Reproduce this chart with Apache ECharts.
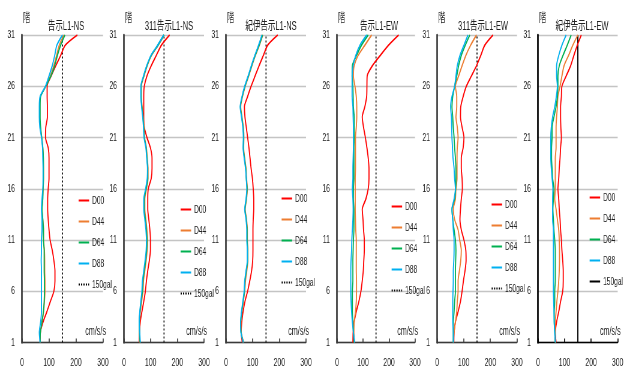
<!DOCTYPE html>
<html>
<head>
<meta charset="utf-8">
<script src="https://cdn.jsdelivr.net/npm/echarts@6/dist/echarts.min.js"></script>
<style>
  html, body { margin: 0; padding: 0; background: #fff; overflow: hidden; }
  /* The chart is laid out wide and squeezed horizontally, giving the condensed lettering */
  #chart { width: 1042px; height: 369px; transform: scaleX(0.6); transform-origin: 0 0; }
</style>
</head>
<body>
<div id="chart"></div>
<script>
// Floor numbers (bottom to top) and the panel titles
const floors = [1,2,3,4,5,6,7,8,9,10,11,12,13,14,15,16,17,18,19,20,21,22,23,24,25,26,27,28,29,30,31];
const panelTitles = ['告示L1-NS', '311告示L1-NS', '紀伊告示L1-NS', '告示L1-EW', '311告示L1-EW', '紀伊告示L1-EW'];
const caseNames = ['D00', 'D44', 'D64', 'D88'];
const refName = '150gal';
const refLevel = 150;
const xTicks = [0, 100, 200, 300];
const floorTicks = [1, 6, 11, 16, 21, 26, 31];

// Peak floor response acceleration (cm/s/s), floor 1 -> 31
const kokujiNS_D00 = [67,68,78,92,105,118,122,122,118,112,104,100,97,95,95,97,100,100,100,97,87,88,94,94,93,93,108,125,143,160,205];
const kokujiNS_D44 = [67,68,74,80,83,85,85,84,84,83,80,80,77,74,76,78,80,80,79,77,73,68,66,66,68,88,105,118,128,138,155];
const kokujiNS_D64 = [67,68,74,79,82,83,83,82,82,82,79,79,77,74,77,78,79,79,79,77,73,69,67,67,69,88,107,121,131,143,159];
const kokujiNS_D88 = [67,64,69,72,72,72,72,72,71,72,72,74,74,72,74,77,78,78,77,76,72,66,64,64,67,87,100,112,121,129,150];

const k311NS_D00 = [57,58,61,67,74,80,84,89,95,99,99,97,93,89,89,91,102,105,105,99,86,76,74,74,74,76,86,102,121,140,171];
const k311NS_D44 = [60,58,58,61,66,71,73,78,83,87,88,86,82,78,78,84,90,90,87,84,77,75,72,68,65,65,75,87,103,128,151];
const k311NS_D64 = [60,58,57,60,64,69,71,76,81,85,86,84,80,76,76,83,89,89,86,83,76,74,71,67,64,64,74,86,102,127,150];
const k311NS_D88 = [61,59,57,59,63,67,69,74,79,83,84,82,78,74,74,81,87,88,85,82,75,73,70,66,63,63,73,85,101,126,149];

const kiiNS_D00 = [61,57,59,64,71,81,89,96,100,101,101,101,102,104,104,102,99,94,90,86,81,76,71,69,81,94,109,124,140,156,194];
const kiiNS_D44 = [66,57,56,60,65,70,73,78,82,82,80,80,77,72,77,80,77,75,70,66,67,65,60,55,62,72,85,97,110,125,138];
const kiiNS_D64 = [65,56,55,59,64,69,71,76,81,81,79,79,76,71,76,79,76,74,69,65,66,64,59,54,61,71,84,96,109,124,137];
const kiiNS_D88 = [65,56,55,58,63,68,70,75,80,80,78,78,75,70,75,78,76,73,68,64,65,63,58,53,60,70,83,95,108,122,135];

const kokujiEW_D00 = [61,62,66,74,84,92,97,101,103,105,105,102,100,97,111,120,123,123,120,115,109,102,97,107,114,115,116,136,166,198,237];
const kokujiEW_D44 = [66,65,66,71,74,75,75,74,74,74,74,72,71,70,70,70,70,71,71,71,71,74,76,76,74,69,63,66,81,107,133];
const kokujiEW_D64 = [66,63,61,59,59,59,61,61,61,62,63,65,65,65,63,63,65,65,65,65,66,66,66,63,62,61,58,59,75,94,120];
const kokujiEW_D88 = [68,63,59,56,54,53,53,53,54,56,57,59,61,62,61,59,61,61,62,63,63,63,62,61,58,58,58,62,72,88,114];

const k311EW_D00 = [63,64,69,79,88,94,99,105,109,108,101,91,86,88,91,95,94,91,91,98,101,94,88,89,98,110,129,148,164,179,210];
const k311EW_D44 = [61,64,69,74,76,79,79,84,89,91,85,79,66,61,69,71,75,75,75,76,79,76,71,74,74,69,81,94,108,126,148];
const k311EW_D64 = [61,61,61,64,66,69,69,69,70,71,69,64,59,56,66,70,71,71,69,66,64,61,59,56,59,66,74,81,91,106,123];
const k311EW_D88 = [61,61,59,59,59,60,61,61,63,64,64,61,59,56,64,69,66,64,60,58,56,55,54,51,56,66,71,76,86,101,116];

const kiiEW_D00 = [68,65,70,78,85,93,95,95,93,90,88,85,83,80,78,75,78,80,83,85,88,86,85,85,88,90,106,123,135,148,163];
const kiiEW_D44 = [66,64,65,68,71,75,78,80,81,81,80,78,73,68,63,65,65,65,65,68,68,68,70,73,75,83,90,98,115,131,150];
const kiiEW_D64 = [65,63,61,61,63,63,65,65,65,65,63,60,58,56,58,60,55,53,51,51,53,53,60,68,73,75,75,80,94,110,125];
const kiiEW_D88 = [65,63,61,60,59,58,58,58,58,58,58,58,55,55,55,56,53,50,48,48,48,50,55,63,69,73,70,70,78,90,106];

const panelData = [
  [kokujiNS_D00, kokujiNS_D44, kokujiNS_D64, kokujiNS_D88],
  [k311NS_D00, k311NS_D44, k311NS_D64, k311NS_D88],
  [kiiNS_D00, kiiNS_D44, kiiNS_D64, kiiNS_D88],
  [kokujiEW_D00, kokujiEW_D44, kokujiEW_D64, kokujiEW_D88],
  [k311EW_D00, k311EW_D44, k311EW_D64, k311EW_D88],
  [kiiEW_D00, kiiEW_D44, kiiEW_D64, kiiEW_D88]
];

// Horizontal squeeze applied by the stylesheet; layout below is given in screen pixels
const SX = 0.6;
const ux = x => x / SX;       // screen x -> layout x
const uw = w => w / SX;       // widths of mostly vertical strokes

// Layout of the six panels (screen pixels)
const gridLeft   = [22, 124, 226, 337, 437, 538];
const gridWidth  = [81, 80, 80, 78, 80, 80];
const legendLeft = [78, 180, 281, 391, 491, 589];
const legendTop  = [195, 204, 193, 201, 199, 192];
const titleX     = [63, 166, 268, 376, 480, 579];
const plotTop = 35, plotBottom = 343;

const caseColors = ['#ff0000', '#ed7d31', '#00b050', '#00b0f0'];
const FONT = "'Liberation Sans', 'Noto Sans CJK JP', sans-serif";
const textColor = '#222222';

const option = {
  animation: false,
  backgroundColor: '#ffffff',
  textStyle: { fontFamily: FONT },
  title: [], grid: [], xAxis: [], yAxis: [], legend: [], series: []
};

panelTitles.forEach((name, p) => {
  const solidRef = p === 5;
  const axisColor = solidRef ? '#000000' : '#3a3a3a';
  option.title.push({
    text: name, left: ux(titleX[p]), top: 15, textAlign: 'center',
    textStyle: { fontFamily: FONT, fontSize: 12.5, fontWeight: 'normal', color: textColor }
  });
  option.grid.push({
    left: ux(gridLeft[p]), width: ux(gridWidth[p]), top: plotTop, height: plotBottom - plotTop,
    containLabel: false
  });
  option.xAxis.push({
    gridIndex: p, type: 'value', min: xTicks[0], max: xTicks[xTicks.length - 1], interval: 100,
    name: 'cm/s/s', nameLocation: 'end', nameGap: ux(3),
    nameTextStyle: { fontFamily: FONT, fontSize: 12, color: textColor, align: 'right', verticalAlign: 'bottom', padding: [0, 0, 5, 0] },
    axisLine: { show: true, lineStyle: { color: axisColor, width: 1.3 } },
    axisTick: { show: true, inside: true, length: 4, lineStyle: { color: axisColor, width: uw(1) } },
    axisLabel: { fontFamily: FONT, fontSize: 11.5, color: textColor, margin: 15 },
    splitLine: { show: false }
  });
  option.yAxis.push({
    gridIndex: p, type: 'value', min: floorTicks[0], max: floorTicks[floorTicks.length - 1], interval: 5,
    name: '階', nameLocation: 'end', nameGap: 16,
    nameTextStyle: { fontFamily: FONT, fontSize: 12, color: textColor, align: 'left', verticalAlign: 'middle', padding: [0, 0, 0, ux(1)] },
    axisLine: { show: true, onZero: false, lineStyle: { color: axisColor, width: uw(1.6) } },
    axisTick: { show: false },
    axisLabel: { fontFamily: FONT, fontSize: 11.5, color: textColor, margin: ux(7) },
    splitLine: { show: true, lineStyle: { color: '#c4c4c4', width: 1.4 } }
  });

  const legendItems = caseNames.map(n => ({ name: n }));
  legendItems.push(solidRef
    ? { name: refName, lineStyle: { type: 'solid', color: '#000', width: uw(1.2) } }
    : { name: refName });
  option.legend.push({
    data: legendItems, orient: 'vertical', left: ux(legendLeft[p]), top: legendTop[p],
    itemWidth: ux(10.5), itemHeight: 10, itemGap: 10, padding: 0, selectedMode: false,
    itemStyle: { opacity: 0 },
    textStyle: { fontFamily: FONT, fontSize: 11, color: textColor }
  });

  panelData[p].forEach((vals, s) => {
    option.series.push({
      name: caseNames[s], type: 'line', xAxisIndex: p, yAxisIndex: p,
      data: vals.map((v, i) => [v, floors[i]]),
      symbol: 'none', smooth: 0.25, z: 2 + s,
      lineStyle: { color: caseColors[s], width: uw(1.1) },
      itemStyle: { color: caseColors[s] }
    });
  });
  option.series.push({
    name: refName, type: 'line', xAxisIndex: p, yAxisIndex: p,
    data: [[refLevel, floors[0]], [refLevel, floors[floors.length - 1]]],
    symbol: 'none', z: 1,
    lineStyle: { color: '#000000', width: solidRef ? uw(1.2) : uw(1), type: solidRef ? 'solid' : [2, 2] },
    itemStyle: { color: '#000000' }
  });
});

const chart = echarts.init(document.getElementById('chart'), null, { renderer: 'canvas' });
chart.setOption(option);
</script>
</body>
</html>
